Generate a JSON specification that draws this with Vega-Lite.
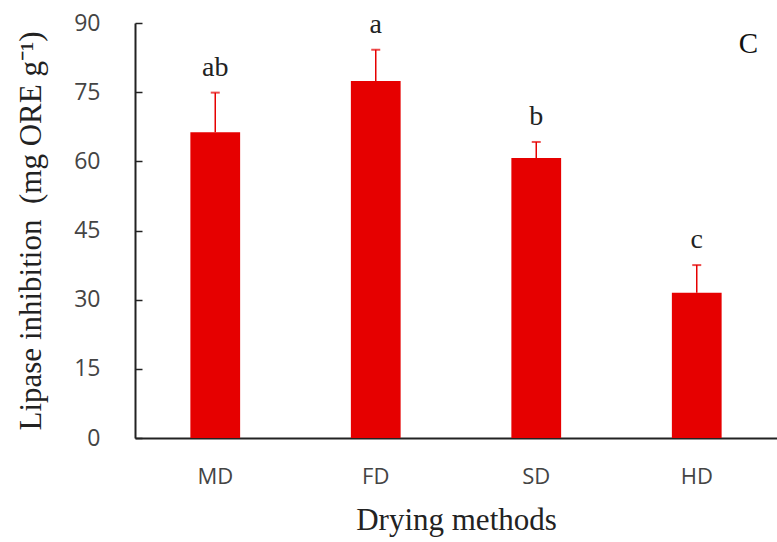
{
  "$schema": "https://vega.github.io/schema/vega-lite/v6.json",
  "width": 642,
  "height": 415,
  "autosize": "none",
  "padding": {"left": 135, "top": 23, "right": 0, "bottom": 104},
  "background": "white",
  "title": {"text": "C", "anchor": "end", "font": "Liberation Serif", "fontSize": 29, "fontWeight": "normal", "color": "#111", "dx": -19, "dy": 48, "offset": 0},
  "data": {"values": [
    {"method": "MD", "mean": 66.3, "upper": 74.9, "letter": "ab"},
    {"method": "FD", "mean": 77.4, "upper": 84.2, "letter": "a"},
    {"method": "SD", "mean": 60.7, "upper": 64.2, "letter": "b"},
    {"method": "HD", "mean": 31.5, "upper": 37.5, "letter": "c"}
  ]},
  "config": {"view": {"stroke": null}, "axis": {"grid": false}},
  "encoding": {
    "x": {
      "field": "method", "type": "nominal", "sort": null,
      "scale": {"paddingInner": 0.69, "paddingOuter": 0.345},
      "axis": {"title": "Drying methods", "labelAngle": 0, "ticks": false, "domainColor": "#222", "domainWidth": 2,
        "labelFont": "Open Sans", "labelFontSize": 22, "labelColor": "#444", "labelPadding": 28,
        "titleFont": "Liberation Serif", "titleFontSize": 31, "titleFontWeight": "normal", "titleColor": "#222", "titlePadding": 18}
    }
  },
  "layer": [
    {
      "mark": {"type": "bar", "color": "#e60000"},
      "encoding": {
        "y": {"field": "mean", "type": "quantitative", "scale": {"domain": [0, 90]},
          "axis": {"title": "Lipase inhibition\u00a0 (mg ORE g⁻¹)", "values": [0, 15, 30, 45, 60, 75, 90],
            "tickSize": {"expr": "-7"}, "tickColor": "#222", "tickWidth": 1.5, "domainColor": "#222", "domainWidth": 2,
            "labelFont": "Open Sans", "labelFontSize": 23, "labelColor": "#444", "labelPadding": 42,
            "titleFont": "Liberation Serif", "titleFontSize": 31, "titleFontWeight": "normal", "titleColor": "#222", "titlePadding": 26}
        }
      }
    },
    {
      "mark": {"type": "rule", "color": "#e60000", "strokeWidth": 1.5},
      "encoding": {"y": {"field": "mean", "type": "quantitative"}, "y2": {"field": "upper"}}
    },
    {
      "mark": {"type": "tick", "color": "#e60000", "thickness": 2, "size": 9},
      "encoding": {"y": {"field": "upper", "type": "quantitative"}}
    },
    {
      "mark": {"type": "text", "font": "Liberation Serif", "fontSize": 28, "color": "#222", "baseline": "alphabetic", "dy": -17},
      "encoding": {"y": {"field": "upper", "type": "quantitative"}, "text": {"field": "letter"}}
    }
  ]
}
